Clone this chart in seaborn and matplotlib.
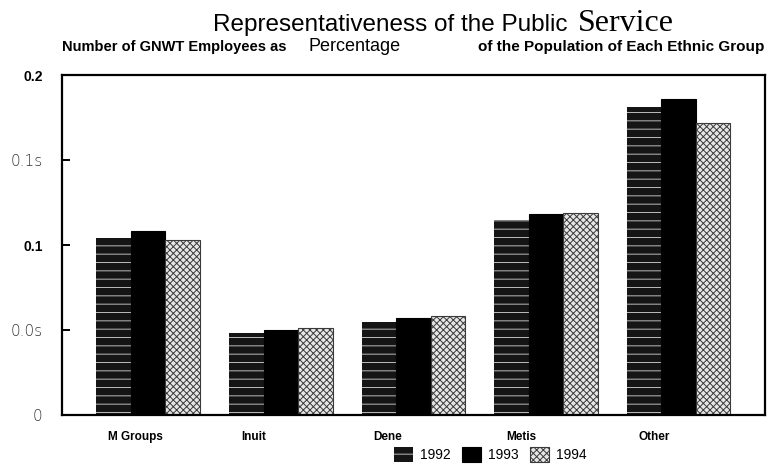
import pandas as pd
import numpy as np
import matplotlib
matplotlib.use("Agg")
import matplotlib.pyplot as plt
import matplotlib.transforms as mtransforms
from matplotlib.patches import Patch
import seaborn as sns

# данные
groups = ["M Groups", "Inuit", "Dene", "Metis", "Other"]
years = ["1992", "1993", "1994"]
v1992 = [0.104, 0.048, 0.055, 0.115, 0.181]
v1993 = [0.108, 0.050, 0.057, 0.118, 0.186]
v1994 = [0.103, 0.051, 0.058, 0.119, 0.172]
ytick_vals = [0, 0.05, 0.1, 0.15, 0.2]
ytick_labels = ["0", "0.0s", "0.1", "0.1s", "0.2"]

df = pd.DataFrame({
    "group": groups * 3,
    "year": np.repeat(years, len(groups)),
    "value": v1992 + v1993 + v1994,
})

sns.set_style("white")
plt.rcParams["font.family"] = ["Liberation Sans", "DejaVu Sans"]
plt.rcParams["text.color"] = "black"
plt.rcParams["xtick.color"] = "black"
plt.rcParams["ytick.color"] = "black"
plt.rcParams["hatch.linewidth"] = 0.7

fig = plt.figure(figsize=(7.71, 4.72), dpi=100)
ax = fig.add_axes([0.0804, 0.1208, 0.9116, 0.7202])

sns.barplot(data=df, x="group", y="value", hue="year", order=groups, hue_order=years,
            palette=["#111111", "#000000", "#dddddd"], width=0.78, legend=False,
            saturation=1, ax=ax)

# стили столбцов (штриховка как в оригинале)
styles = [
    dict(facecolor="#151515", edgecolor="#bdbdbd", hatch="--", linewidth=0),
    dict(facecolor="#000000", edgecolor="#000000", hatch=None, linewidth=0.8),
    dict(facecolor="#e6e6e6", edgecolor="#3a3a3a", hatch="xxxxx", linewidth=0.8),
]
for cont, st in zip(ax.containers, styles):
    for bar in cont:
        bar.set_facecolor(st["facecolor"])
        bar.set_edgecolor(st["edgecolor"])
        bar.set_hatch(st["hatch"])
        bar.set_linewidth(st["linewidth"])

ax.set_ylim(0, 0.2)
ax.set_xlim(-0.65, 4.65)
ax.set_xlabel("")
ax.set_ylabel("")
for sp in ax.spines.values():
    sp.set_visible(True)
    sp.set_color("black")
    sp.set_linewidth(1.6)

ax.set_yticks(ytick_vals)
ax.set_yticklabels(ytick_labels)
ax.tick_params(axis="y", direction="in", length=6, width=1.4, left=True, pad=14, labelsize=11)
for lbl in ax.get_yticklabels():
    if lbl.get_text() in ("0.2", "0.1"):
        lbl.set_fontweight("bold")
        lbl.set_fontsize(10)
    else:
        lbl.set_color("#333333")
        lbl.set_fontfamily(["DejaVu Sans"])
        lbl.set_fontweight("light")

ax.tick_params(axis="x", bottom=False, pad=8, labelsize=8.5)
shift = mtransforms.ScaledTranslation(-0.40, 0, fig.dpi_scale_trans)
for lbl in ax.get_xticklabels():
    lbl.set_fontweight("bold")
    lbl.set_ha("left")
    lbl.set_transform(lbl.get_transform() + shift)

# заголовки
fig.text(0.276, 0.935, "Representativeness of the Public", fontsize=17.5, ha="left", va="baseline")
fig.text(0.75, 0.935, "Service", fontsize=23, ha="left", va="baseline",
         family=["Liberation Serif", "DejaVu Serif"])
fig.text(0.0804, 0.893, "Number of GNWT Employees as", fontsize=10.5, fontweight="bold",
         ha="left", va="baseline")
fig.text(0.400, 0.893, "Percentage", fontsize=13, ha="left", va="baseline")
fig.text(0.992, 0.893, "of the Population of Each Ethnic Group", fontsize=11, fontweight="bold",
         ha="right", va="baseline")

handles = [Patch(facecolor=st["facecolor"], edgecolor=st["edgecolor"], hatch=st["hatch"],
                 linewidth=st["linewidth"]) for st in styles]
fig.legend(handles, years, loc="lower center", bbox_to_anchor=(0.636, -0.005), ncol=3,
           frameon=False, fontsize=10, handlelength=1.4, handleheight=1.3,
           columnspacing=0.8, handletextpad=0.5)

fig.savefig("out.png", dpi=100)
